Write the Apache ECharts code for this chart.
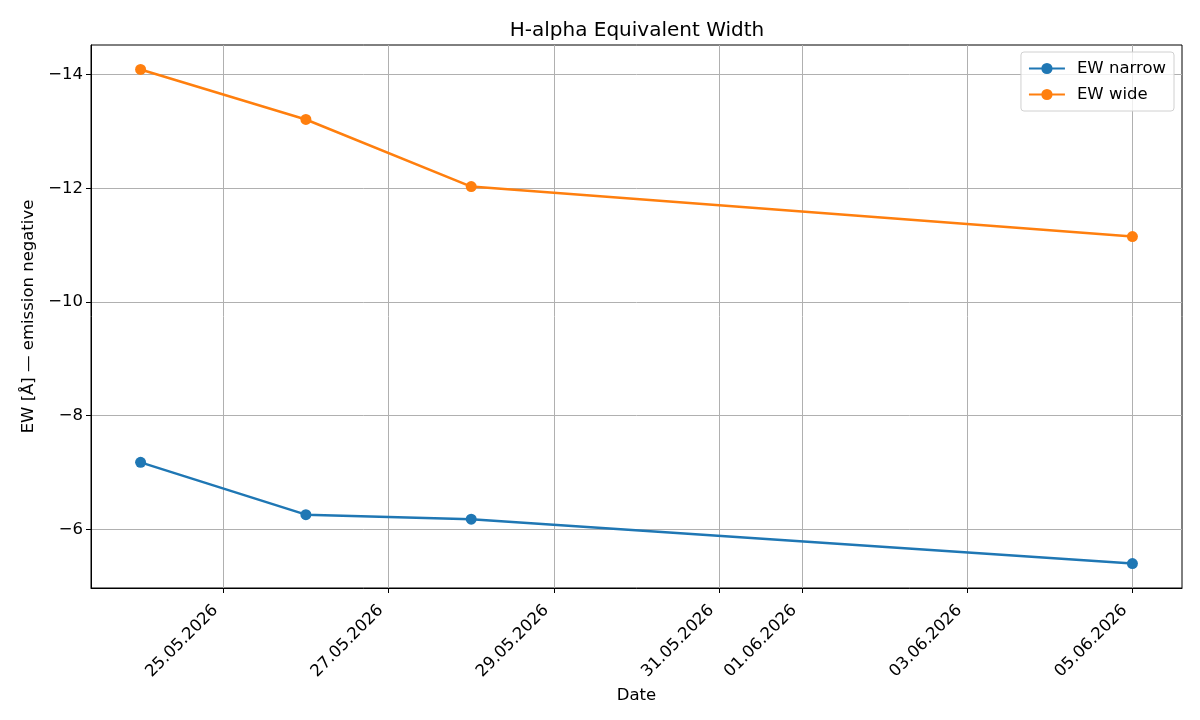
<!DOCTYPE html>
<html>
<head>
<meta charset="utf-8">
<script src="https://cdn.jsdelivr.net/npm/echarts@6/dist/echarts.min.js"></script>
<style>
html, body { margin: 0; padding: 0; background: #fff; }
#chart { width: 1200px; height: 720px; }
</style>
</head>
<body>
<div id="chart"></div>
<script>
// observation dates and equivalent widths (Angstrom, emission negative)
const dates = ['2026-05-24', '2026-05-26', '2026-05-28', '2026-06-05'];
const ewNarrow = [-7.18, -6.26, -6.18, -5.40];
const ewWide = [-14.09, -13.21, -12.03, -11.15];
const xTicks = ['2026-05-25', '2026-05-27', '2026-05-29', '2026-05-31', '2026-06-01', '2026-06-03', '2026-06-05'];
const yTicks = [-14, -12, -10, -8, -6];

const DAY = 86400000;
const font = 'DejaVu Sans';

function toMs(s) {
	let p = s.split('-').map(Number);
	return Date.UTC(p[0], p[1] - 1, p[2]);
}
function fmtDate(v) {
	let d = new Date(v);
	let dd = String(d.getUTCDate()).padStart(2, '0');
	let mm = String(d.getUTCMonth() + 1).padStart(2, '0');
	return dd + '.' + mm + '.' + d.getUTCFullYear();
}

let xs = dates.map(toMs);
let xMin = xs[0] - 0.6 * DAY;
let xMax = xs[xs.length - 1] + 0.6 * DAY;
let xTickVals = xTicks.map(toMs);

let myChart = echarts.init(document.getElementById('chart'), null, { renderer: 'canvas' });

let option = {
	animation: false,
	textStyle: { fontFamily: font },
	title: {
		// centred over the plot area, not the page
		text: 'H-alpha Equivalent Width',
		left: 632,
		textAlign: 'center',
		top: 16,
		textStyle: { fontFamily: font, fontSize: 20, fontWeight: 'normal', color: '#000' }
	},
	legend: {
		orient: 'vertical',
		right: 26,
		top: 52,
		padding: [8, 8, 8, 7],
		itemWidth: 36,
		itemHeight: 14,
		itemGap: 9,
		borderColor: '#d0d0d0',
		borderWidth: 1,
		borderRadius: 3,
		backgroundColor: 'rgba(255,255,255,0.8)',
		textStyle: { fontFamily: font, fontSize: 16.5, color: '#000', padding: [0, 0, 0, 7] },
		data: ['EW narrow', 'EW wide']
	},
	grid: {
		left: 91,
		right: 18,
		top: 45,
		bottom: 132,
		show: true,
		borderColor: '#000',
		borderWidth: 1,
		backgroundColor: 'transparent'
	},
	xAxis: {
		type: 'value',
		min: xMin,
		max: xMax,
		name: 'Date',
		nameLocation: 'middle',
		nameGap: 96,
		nameTextStyle: { fontFamily: font, fontSize: 16.5, color: '#000' },
		axisLine: { show: true, lineStyle: { color: '#000', width: 1 } },
		axisTick: { show: true, length: 5, customValues: xTickVals, lineStyle: { color: '#000' } },
		axisLabel: {
			customValues: xTickVals,
			rotate: 45,
			margin: 12,
			padding: [0, 11, 0, 0],
			fontFamily: font,
			fontSize: 16.5,
			color: '#000',
			formatter: fmtDate
		},
		splitLine: { show: true, lineStyle: { color: '#b0b0b0', width: 1 } }
	},
	yAxis: {
		type: 'value',
		inverse: true,
		min: -14.52,
		max: -4.97,
		name: 'EW [Å] — emission negative',
		nameLocation: 'middle',
		nameRotate: 90,
		nameGap: 54,
		nameTextStyle: { fontFamily: font, fontSize: 16.5, color: '#000' },
		axisLine: { show: true, lineStyle: { color: '#000', width: 1 } },
		axisTick: { show: true, length: 5, customValues: yTicks, lineStyle: { color: '#000' } },
		axisLabel: {
			customValues: yTicks,
			margin: 8,
			fontFamily: font,
			fontSize: 16.5,
			color: '#000',
			formatter: v => String(v).replace('-', '\u2212')
		},
		splitLine: { show: true, lineStyle: { color: '#b0b0b0', width: 1 } }
	},
	series: [
		{
			name: 'EW narrow',
			type: 'line',
			data: xs.map((x, i) => [x, ewNarrow[i]]),
			symbol: 'circle',
			symbolSize: 11,
			color: '#1f77b4',
			lineStyle: { width: 2.5 },
			itemStyle: { color: '#1f77b4' }
		},
		{
			name: 'EW wide',
			type: 'line',
			data: xs.map((x, i) => [x, ewWide[i]]),
			symbol: 'circle',
			symbolSize: 11,
			color: '#ff7f0e',
			lineStyle: { width: 2.5 },
			itemStyle: { color: '#ff7f0e' }
		}
	]
};
myChart.setOption(option);
</script>
</body>
</html>
